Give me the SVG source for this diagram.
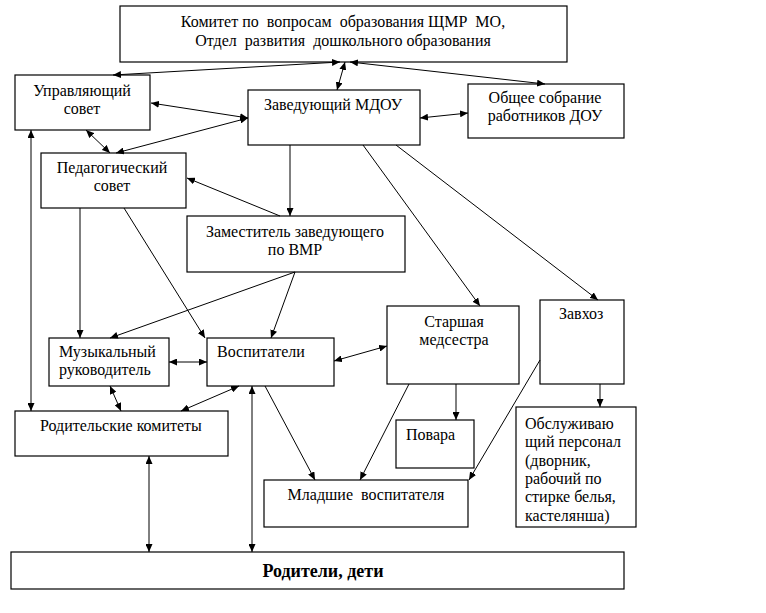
<svg xmlns="http://www.w3.org/2000/svg" width="766" height="613" viewBox="0 0 766 613">
<defs>
<marker id="ah" viewBox="0 0 8 7" refX="8" refY="3.5" markerWidth="8" markerHeight="7" markerUnits="userSpaceOnUse" orient="auto-start-reverse">
<path d="M0,0 L8,3.5 L0,7 z" fill="#000"/>
</marker>
<style>
.box{fill:#fff;stroke:#000;stroke-width:1.2}
text{font-family:'Liberation Serif','Times New Roman',serif;font-size:16px;fill:#000}
.m{text-anchor:middle}
.c line{stroke:#000;stroke-width:1}
.b line{marker-start:url(#ah);marker-end:url(#ah)}
.e line{marker-end:url(#ah)}
</style>
</defs>
<rect width="766" height="613" fill="#fff"/>

<g id="komitet">
<rect class="box" x="120" y="6" width="447" height="56"/>
<text class="m" x="343" y="27" xml:space="preserve">Комитет по  вопросам  образования ЩМР  МО,</text>
<text class="m" x="343" y="46" xml:space="preserve">Отдел  развития  дошкольного образования</text>
</g>
<g id="upr">
<rect class="box" x="15" y="75" width="135" height="55"/>
<text class="m" x="82" y="96">Управляющий</text>
<text class="m" x="82" y="114">совет</text>
</g>
<g id="zav">
<rect class="box" x="248" y="90" width="172" height="55"/>
<text class="m" x="333" y="110">Заведующий МДОУ</text>
</g>
<g id="obsh">
<rect class="box" x="468" y="84" width="156" height="54"/>
<text class="m" x="545" y="103">Общее собрание</text>
<text class="m" x="545" y="121">работников ДОУ</text>
</g>
<g id="ped">
<rect class="box" x="41" y="153" width="145" height="55"/>
<text class="m" x="112" y="173">Педагогический</text>
<text class="m" x="112" y="191">совет</text>
</g>
<g id="zam">
<rect class="box" x="187" y="216" width="218" height="56"/>
<text class="m" x="295" y="237">Заместитель заведующего</text>
<text class="m" x="295" y="255">по ВМР</text>
</g>
<g id="muz">
<rect class="box" x="49" y="338" width="120" height="48"/>
<text x="59" y="357">Музыкальный</text>
<text x="59" y="375">руководитель</text>
</g>
<g id="vosp">
<rect class="box" x="207" y="338" width="127" height="48"/>
<text x="217" y="357">Воспитатели</text>
</g>
<g id="med">
<rect class="box" x="387" y="306" width="132" height="78"/>
<text class="m" x="454" y="327">Старшая</text>
<text class="m" x="454" y="345">медсестра</text>
</g>
<g id="zavhoz">
<rect class="box" x="540" y="300" width="84" height="84"/>
<text x="559" y="319">Завхоз</text>
</g>
<g id="povara">
<rect class="box" x="396" y="420" width="78" height="48"/>
<text x="406" y="440">Повара</text>
</g>
<g id="obsl">
<rect class="box" x="516" y="407" width="120" height="120"/>
<text x="525" y="429">Обслуживаю</text>
<text x="525" y="447">щий персонал</text>
<text x="525" y="466">(дворник,</text>
<text x="525" y="484">рабочий по</text>
<text x="525" y="502">стирке белья,</text>
<text x="525" y="521">кастелянша)</text>
</g>
<g id="rodkom">
<rect class="box" x="15" y="411" width="213" height="45"/>
<text x="40" y="431">Родительские комитеты</text>
</g>
<g id="mlad">
<rect class="box" x="264" y="480" width="204" height="47"/>
<text class="m" x="366" y="500" xml:space="preserve">Младшие  воспитателя</text>
</g>
<g id="roditeli">
<rect class="box" x="11" y="552" width="613" height="37"/>
<text class="m" x="323" y="577" style="font-size:18px;font-weight:bold">Родители, дети</text>
</g>

<g id="connectors" class="c">
<g class="b">
<line x1="340" y1="62" x2="113" y2="75"/>
<line x1="345" y1="62" x2="337" y2="90"/>
<line x1="350" y1="62" x2="545" y2="84"/>
<line x1="151" y1="103" x2="248" y2="118"/>
<line x1="248" y1="118" x2="116" y2="153"/>
<line x1="86" y1="130" x2="110" y2="153"/>
<line x1="420" y1="118" x2="468" y2="113"/>
<line x1="169" y1="362" x2="207" y2="362"/>
<line x1="334" y1="361" x2="387" y2="346"/>
<line x1="31" y1="130" x2="31" y2="411"/>
<line x1="110" y1="386" x2="121" y2="411"/>
<line x1="239" y1="386" x2="181" y2="411"/>
<line x1="252" y1="386" x2="252" y2="552"/>
<line x1="149" y1="456" x2="149" y2="552"/>
</g>
<g class="e">
<line x1="290" y1="145" x2="290" y2="216"/>
<line x1="280" y1="216" x2="187" y2="178"/>
<line x1="363" y1="145" x2="480" y2="306"/>
<line x1="396" y1="145" x2="598" y2="300"/>
<line x1="80" y1="208" x2="80" y2="338"/>
<line x1="124" y1="208" x2="205" y2="338"/>
<line x1="295" y1="272" x2="110" y2="338"/>
<line x1="295" y1="272" x2="271" y2="338"/>
<line x1="265" y1="386" x2="315" y2="480"/>
<line x1="409" y1="384" x2="360" y2="480"/>
<line x1="540" y1="360" x2="469" y2="480"/>
<line x1="456" y1="384" x2="456" y2="420"/>
<line x1="600" y1="384" x2="600" y2="407"/>
</g>
</g>
</svg>
